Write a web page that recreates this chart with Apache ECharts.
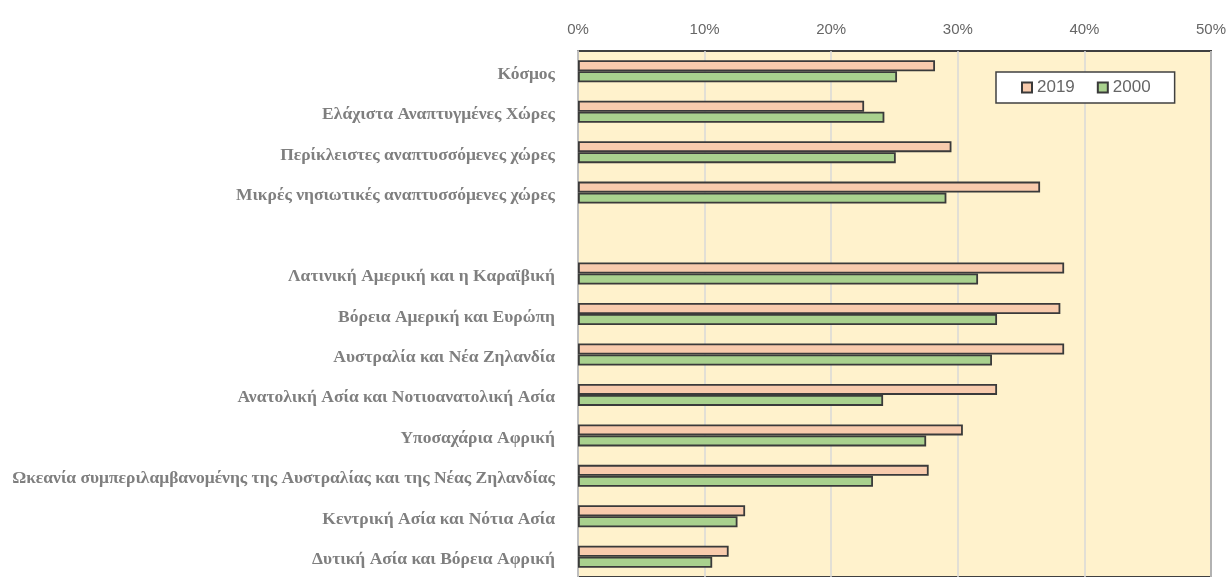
<!DOCTYPE html>
<html>
<head>
<meta charset="utf-8">
<script src="https://cdn.jsdelivr.net/npm/echarts@6/dist/echarts.min.js"></script>
<style>
html,body{margin:0;padding:0;background:#fff;}
#chart{width:1231px;height:577px;}
</style>
</head>
<body>
<div id="chart"></div>
<script>
const categories = [
  'Κόσμος',
  'Ελάχιστα Αναπτυγμένες Χώρες',
  'Περίκλειστες αναπτυσσόμενες χώρες',
  'Μικρές νησιωτικές αναπτυσσόμενες χώρες',
  '',
  'Λατινική Αμερική και η Καραϊβική',
  'Βόρεια Αμερική και Ευρώπη',
  'Αυστραλία και Νέα Ζηλανδία',
  'Ανατολική Ασία και Νοτιοανατολική Ασία',
  'Υποσαχάρια Αφρική',
  'Ωκεανία συμπεριλαμβανομένης της Αυστραλίας και της Νέας Ζηλανδίας',
  'Κεντρική Ασία και Νότια Ασία',
  'Δυτική Ασία και Βόρεια Αφρική'
];
const values2019 = [28.2, 22.6, 29.5, 36.5, null, 38.4, 38.1, 38.4, 33.1, 30.4, 27.7, 13.2, 11.9];
const values2000 = [25.2, 24.2, 25.1, 29.1, null, 31.6, 33.1, 32.7, 24.1, 27.5, 23.3, 12.6, 10.6];
const seriesNames = ['2019', '2000'];

const chart = echarts.init(document.getElementById('chart'));
chart.setOption({
  animation: false,
  backgroundColor: '#ffffff',
  grid: {
    left: 578, right: 20, top: 51, bottom: 0,
    show: true, backgroundColor: '#FFF2CC',
    borderColor: '#404040', borderWidth: 2
  },
  legend: {
    data: seriesNames,
    left: 996, top: 72,
    orient: 'horizontal',
    backgroundColor: '#ffffff',
    borderColor: '#404040', borderWidth: 1.5,
    padding: [7, 24, 7, 25],
    itemGap: 22,
    itemWidth: 10, itemHeight: 10,
    icon: 'rect',
    textStyle: { color: '#666666', fontSize: 17, fontFamily: 'Liberation Sans' }
  },
  xAxis: {
    type: 'value', position: 'top',
    min: 0, max: 50, interval: 10,
    axisLine: { show: false },
    axisTick: { show: false },
    splitLine: { show: true, lineStyle: { color: '#D9D9D9', width: 1.5 } },
    axisLabel: { formatter: '{value}%', color: '#666666', fontSize: 15, fontFamily: 'Liberation Sans', margin: 14 }
  },
  yAxis: {
    type: 'category', inverse: true,
    data: categories,
    axisLine: { show: true, lineStyle: { color: '#BFBFBF', width: 2 } },
    axisTick: { show: false },
    axisLabel: {
      margin: 23,
      formatter: function (v) { return '{a|' + v + '}'; },
      rich: {
        a: { color: '#7F7F7F', fontSize: 17.5, fontWeight: 'bold', fontFamily: 'Liberation Serif', padding: [6, 0, 0, 0] }
      }
    }
  },
  series: [
    {
      name: seriesNames[0], type: 'bar', data: values2019,
      barWidth: 11, barGap: '0%',
      itemStyle: { color: '#F8CBAD', borderColor: '#3A3A3A', borderWidth: 1.8 }
    },
    {
      name: seriesNames[1], type: 'bar', data: values2000,
      barWidth: 11, barGap: '0%',
      itemStyle: { color: '#A9D18E', borderColor: '#3A3A3A', borderWidth: 1.8 }
    }
  ]
});
</script>
</body>
</html>
